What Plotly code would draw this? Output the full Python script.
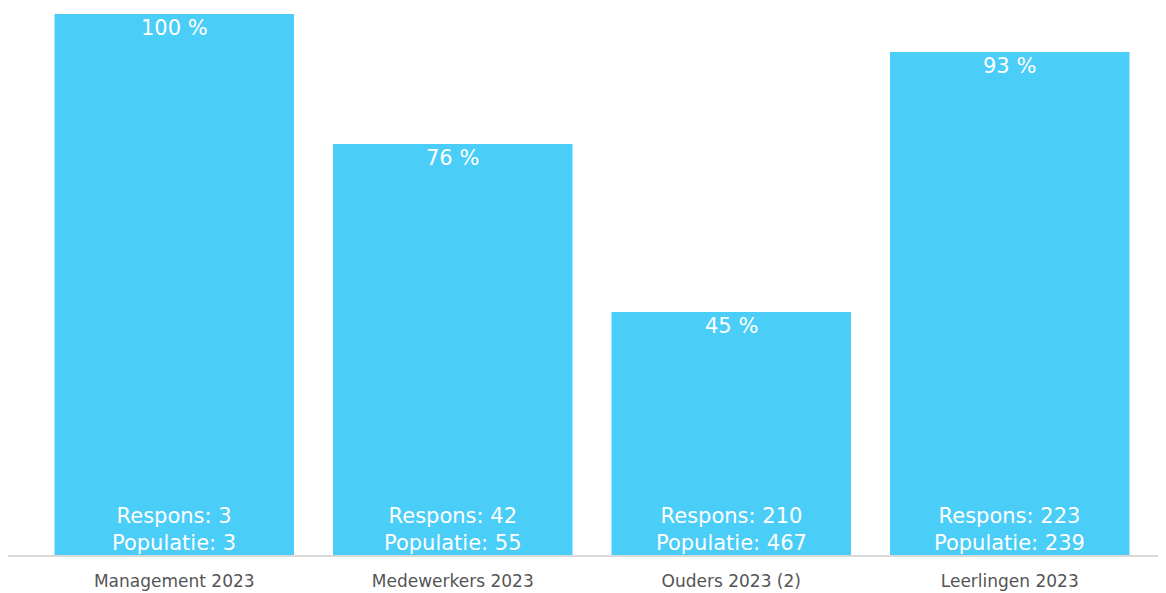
import plotly.graph_objects as go

categories = ["Management 2023", "Medewerkers 2023", "Ouders 2023 (2)", "Leerlingen 2023"]
percentages = [100, 76, 45, 93]
respons = [3, 42, 210, 223]
populatie = [3, 55, 467, 239]

BAR_COLOR = "#4ACDF7"
FONT = "DejaVu Sans"

fig = go.Figure()
fig.add_trace(go.Bar(
    x=categories, y=percentages,
    marker=dict(color=BAR_COLOR, line=dict(width=0)),
    hoverinfo="skip",
))

for c, p, r, n in zip(categories, percentages, respons, populatie):
    fig.add_annotation(
        x=c, y=p, text=f"{p} %", showarrow=False,
        xref="x", yref="y", yanchor="top", yshift=0,
        font=dict(family=FONT, size=21, color="white"),
    )
    fig.add_annotation(
        x=c, y=0, text=f"Respons: {r}<br>Populatie: {n}", showarrow=False,
        xref="x", yref="y", yanchor="bottom", yshift=-1,
        font=dict(family=FONT, size=21, color="white"),
    )

fig.add_shape(type="line", xref="paper", yref="paper",
              x0=-27.25 / 1114, x1=1.06, y0=0, y1=0,
              line=dict(color="#d9d9d9", width=2))

fig.update_layout(
    width=1166, height=593,
    margin=dict(l=27, r=25, t=6, b=45),
    paper_bgcolor="white", plot_bgcolor="white",
    bargap=0.14, showlegend=False,
    xaxis=dict(showline=False, showgrid=False, ticks="", ticklabelstandoff=13,
               tickfont=dict(family=FONT, size=17, color="#555555")),
    yaxis=dict(range=[0, 100], visible=False, showgrid=False),
)

fig.write_html("out.html")
